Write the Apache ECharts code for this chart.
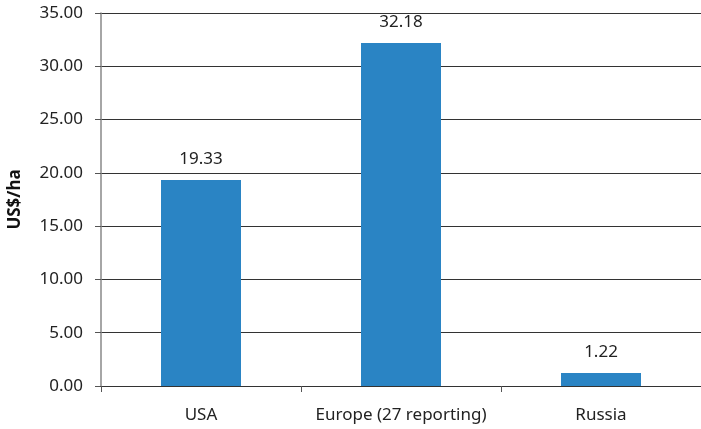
<!DOCTYPE html>
<html>
<head>
<meta charset="utf-8">
<script src="https://cdn.jsdelivr.net/npm/echarts@6/dist/echarts.min.js"></script>
<style>
html, body { margin: 0; padding: 0; background: #fff; }
#main { width: 701px; height: 429px; }
</style>
</head>
<body>
<div id="main"></div>
<script>
// 数据
var categories = ['USA', 'Europe (27 reporting)', 'Russia'];
var values = [19.33, 32.18, 1.22];
var yName = 'US$/ha';

var myChart = echarts.init(document.getElementById('main'));
var option = {
    animation: false,
    textStyle: { fontFamily: 'Noto Sans' },
    grid: { left: 101, right: 0, top: 13, bottom: 43, outerBoundsMode: 'none' },
    xAxis: {
        type: 'category',
        data: categories,
        z: 5,
        axisLine: { lineStyle: { color: '#333', width: 1 } },
        axisTick: { show: true, length: 6, lineStyle: { color: '#555' } },
        axisLabel: { color: '#222', fontSize: 17, margin: 21, interval: 0 }
    },
    yAxis: {
        type: 'value',
        min: 0,
        max: 35,
        interval: 5,
        name: yName,
        nameLocation: 'middle',
        nameGap: 77,
        nameTextStyle: { fontWeight: 'bold', fontSize: 17, color: '#111' },
        axisLine: { show: true, lineStyle: { color: '#888', width: 1.5 } },
        axisTick: { show: true, length: 6, lineStyle: { color: '#555' } },
        axisLabel: {
            color: '#222',
            fontSize: 17,
            margin: 18,
            formatter: function (v) { return v.toFixed(2); }
        },
        splitLine: { lineStyle: { color: '#333', width: 1 } }
    },
    series: [{
        type: 'bar',
        data: values,
        barWidth: '40%',
        itemStyle: { color: '#2a84c4' },
        label: {
            show: true,
            position: 'top',
            distance: 12,
            color: '#222',
            fontSize: 17,
            formatter: function (p) { return p.value.toFixed(2); }
        }
    }]
};
myChart.setOption(option);
</script>
</body>
</html>
